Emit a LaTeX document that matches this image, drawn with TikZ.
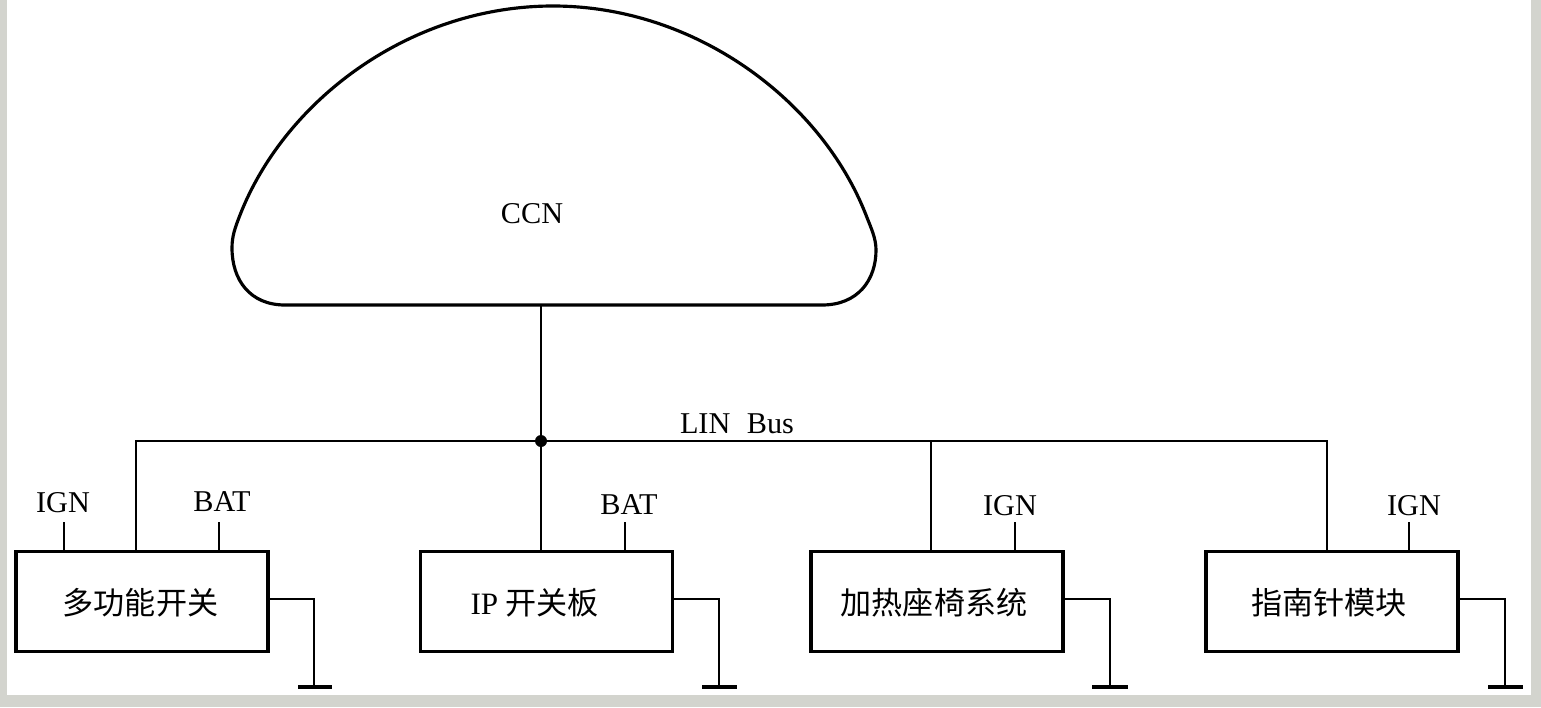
\documentclass[tikz,border=0pt]{standalone}
\usepackage{fontspec}
\setmainfont{Liberation Serif}
\newfontfamily\cjk{Noto Sans CJK SC}
\usepackage{xcolor}
\usetikzlibrary{positioning,calc}
\definecolor{pagegray}{RGB}{211,212,206}

\begin{document}
\begin{tikzpicture}[
    x=0.02cm, y=-0.02cm,
    ecu/.style={draw, line width=1.9pt, minimum width=5.04cm, minimum height=2.01cm, align=center, font=\fontsize{17.7}{20}\cjk, inner sep=0pt, text height=0.55cm, text depth=0.05cm},
    lbl/.style={font=\fontsize{17.2}{20}\selectfont, inner sep=0pt},
    wire/.style={line width=1.15pt},
    gndbar/.style={line width=1.8pt}
]
\fill[pagegray] (0,0) rectangle (1541,707);
\fill[white] (7,0) rectangle (1531,695);

% dome
\draw[line width=1.8pt, line join=round] (285,305) .. controls (250,305) and (232,280) .. (232,248)
    .. controls (232,236) and (235,228) .. (240,215)
    .. controls (285,100) and (410,6) .. (553,6)
    .. controls (695,6) and (821,100) .. (866,215)
    .. controls (871,228) and (876,238) .. (876,250)
    .. controls (876,280) and (858,305) .. (822,305) -- cycle;
\node[lbl] (ccn) at (532,214) {CCN};
\coordinate (ccnbot) at (541,305);

% modules
\node[ecu] (multi) at (142,601.5) {多功能开关\hspace{0.06cm}};
\node[ecu] (ipboard) at (546.5,601.5) {{\rmfamily IP} 开关板\hspace{0.48cm}};
\node[ecu] (seat) at (937,601.5) {加热座椅系统\hspace{0.12cm}};
\node[ecu] (compass) at (1332,601.5) {指南针模块\hspace{0.12cm}};

% bus
\coordinate (busl) at (136,441);
\coordinate (busm) at (931,441);
\coordinate (busr) at (1327,441);
\node[circle, fill, inner sep=0pt, minimum size=0.24cm] (junc) at (541,441) {};
\node[lbl] (lin) at (737,424) {LIN\hspace{0.3em} Bus};
\draw[wire] (ccnbot) -- (junc);
\draw[wire] (busl |- multi.north) -- (busl) -- (busr) -- (busr |- compass.north);
\draw[wire] (junc) -- (junc |- ipboard.north);
\draw[wire] (busm) -- (busm |- seat.north);

% supply pins
\foreach \pn/\px/\lx/\ly/\txt/\host in {a/64/63/503/IGN/multi, b/219/222/502/BAT/multi, c/625/629/505/BAT/ipboard, d/1015/1010/506/IGN/seat, e/1409/1414/506/IGN/compass}{
    \node[lbl] (pin\pn) at (\lx,\ly) {\txt};
    \coordinate (top\pn) at (\px,522);
    \draw[wire] (top\pn) -- (top\pn |- \host.north);
}

% ground
\coordinate (gndy) at (0,599);
\foreach \host/\gx/\bl/\br in {multi/314/298/332, ipboard/719/702/737, seat/1110/1092/1128, compass/1505/1488/1523}{
    \coordinate (g\host) at (\gx,687);
    \draw[wire] (\host.east |- gndy) -| (g\host);
    \draw[gndbar] (\bl,687) -- (\br,687);
}
\end{tikzpicture}
\end{document}
